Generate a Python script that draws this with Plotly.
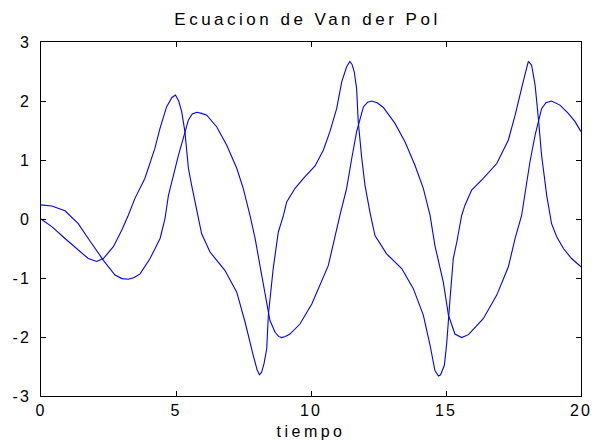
import plotly.graph_objects as go

# Series 1: x(t)  (smooth oscillation, amplitude ~2)
t_x = [0, 0.4, 0.89, 1.38, 1.75, 2.31, 2.74, 3.0, 3.23, 3.45, 3.67, 4.04, 4.41,
       4.59, 4.72, 4.84, 4.96, 5.09, 5.27, 5.46, 5.6, 5.77, 5.95, 6.14, 6.51, 6.88,
       7.25, 7.49, 7.74, 7.93, 8.11, 8.3, 8.48, 8.67, 8.8, 8.91, 9.05, 9.22, 9.59,
       10.03, 10.52, 10.64, 11.07, 11.32, 11.51, 11.69, 11.94, 12.1, 12.25, 12.45,
       12.68, 13.11, 13.48, 13.85, 14.16, 14.41, 14.59, 14.9, 15.09, 15.33, 15.58,
       15.83, 16.38, 16.88, 17.31, 17.56, 17.8, 17.86, 18.11, 18.3, 18.54, 18.7,
       18.91, 19.22, 19.53, 19.78, 20.0]
x_vals = [0.24, 0.22, 0.14, -0.08, -0.33, -0.70, -0.95, -1.01, -1.02, -0.99, -0.93,
          -0.67, -0.33, 0.0, 0.40, 0.63, 0.82, 1.08, 1.37, 1.68, 1.78, 1.81, 1.79, 1.76,
          1.56, 1.25, 0.86, 0.52, 0.06, -0.33, -0.79, -1.29, -1.72, -1.92, -1.99, -2.01,
          -1.99, -1.95, -1.78, -1.44, -0.93, -0.79, 0.06, 0.52, 1.03, 1.48, 1.90, 1.98,
          2.0, 1.97, 1.89, 1.62, 1.31, 0.91, 0.52, 0.06, -0.45, -1.07, -1.63, -1.95,
          -2.01, -1.96, -1.69, -1.29, -0.81, -0.33, 0.06, 0.23, 0.97, 1.42, 1.87, 1.97,
          2.0, 1.93, 1.79, 1.65, 1.48]

# Series 2: x'(t)  (sharp spikes, amplitude ~2.7)
t_dx = [0, 0.4, 0.89, 1.38, 1.75, 2.06, 2.31, 2.68, 2.99, 3.23, 3.48, 3.85, 4.22, 4.41,
        4.65, 4.85, 4.98, 5.1, 5.21, 5.33, 5.46, 5.58, 5.7, 5.8, 5.95, 6.26, 6.81, 7.25,
        7.56, 7.86, 8.0, 8.09, 8.17, 8.26, 8.36, 8.42, 8.6, 8.79, 8.98, 9.1, 9.41, 9.72,
        10.15, 10.46, 10.7, 10.95, 11.14, 11.32, 11.44, 11.52, 11.6, 11.69, 11.75, 11.88,
        12.0, 12.19, 12.37, 12.8, 13.36, 13.79, 14.16, 14.41, 14.59, 14.72, 14.8, 14.94,
        15.03, 15.15, 15.27, 15.4, 15.58, 15.7, 15.95, 16.38, 16.88, 17.31, 17.56, 17.86,
        18.05, 18.17, 18.3, 18.42, 18.54, 18.73, 18.91, 19.1, 19.35, 19.65, 20.0]
dx_vals = [0, -0.13, -0.33, -0.53, -0.67, -0.72, -0.67, -0.47, -0.19, 0.06, 0.35, 0.69,
           1.20, 1.54, 1.90, 2.06, 2.10, 2.0, 1.82, 1.48, 0.86, 0.57, 0.29, 0.06, -0.25,
           -0.56, -0.87, -1.24, -1.75, -2.31, -2.55, -2.64, -2.60, -2.45, -2.20, -1.63,
           -0.84, -0.22, 0.06, 0.29, 0.52, 0.69, 0.90, 1.17, 1.48, 1.87, 2.33, 2.58, 2.67,
           2.62, 2.50, 2.21, 1.65, 1.03, 0.57, 0.10, -0.28, -0.59, -0.84, -1.18, -1.63,
           -2.14, -2.57, -2.66, -2.64, -2.48, -2.09, -1.35, -0.67, -0.39, 0.06, 0.23, 0.49,
           0.69, 0.94, 1.34, 1.76, 2.33, 2.67, 2.61, 2.27, 1.71, 1.08, 0.40, -0.08, -0.30,
           -0.50, -0.67, -0.81]

x_ticks = [0, 5, 10, 15, 20]
y_ticks = [-3, -2, -1, 0, 1, 2, 3]

title_text = "Ecuacion de Van der Pol"
xlabel_text = "tiempo"

FONT = "Liberation Sans, Arial, sans-serif"
BLUE = "rgb(0,0,255)"

fig = go.Figure()
fig.add_trace(go.Scatter(x=t_x, y=x_vals, mode="lines",
                         line=dict(color=BLUE, width=1.1), showlegend=False))
fig.add_trace(go.Scatter(x=t_dx, y=dx_vals, mode="lines",
                         line=dict(color=BLUE, width=1.1), showlegend=False))

fig.update_layout(
    width=596, height=444,
    margin=dict(l=41, r=15, t=42, b=48, autoexpand=False),
    paper_bgcolor="white", plot_bgcolor="white",
    font=dict(family=FONT, size=16, color="black"),
    title=dict(text=title_text, x=0.4935, xref="paper", xanchor="center",
               y=1 - 19 / 444, yref="container", yanchor="middle",
               font=dict(family=FONT, size=17, color="black")),
)
fig.update_xaxes(
    range=[0, 20], tickvals=x_ticks, ticktext=[str(v) for v in x_ticks],
    showgrid=False, zeroline=False, automargin=False,
    showline=True, linecolor="black", linewidth=1, mirror="ticks",
    ticks="inside", ticklen=5, tickcolor="black", tickwidth=1,
    tickfont=dict(family=FONT, size=16),
    title=dict(text=xlabel_text, standoff=7, font=dict(family=FONT, size=16)),
)
fig.update_yaxes(
    range=[-3, 3], tickvals=y_ticks, ticktext=[str(v) for v in y_ticks],
    showgrid=False, zeroline=False, automargin=False,
    showline=True, linecolor="black", linewidth=1, mirror="ticks",
    ticks="inside", ticklen=5, tickcolor="black", tickwidth=1,
    tickfont=dict(family=FONT, size=16), ticklabelstandoff=6,
)

post = """
(function(){
  document.body.style.margin = '0';
  document.body.style.padding = '0';
  document.body.style.overflow = 'hidden';
  var gd = document.getElementById('{plot_id}');
  function sp(){
    gd.querySelectorAll('.gtitle').forEach(function(t){ t.style.letterSpacing = '3.5px'; });
    gd.querySelectorAll('.xtitle').forEach(function(t){ t.style.letterSpacing = '3.5px'; });
    gd.querySelectorAll('.xtick text, .ytick text').forEach(function(t){ t.style.letterSpacing = '2px'; });
  }
  sp();
  if (gd && gd.on) { gd.on('plotly_afterplot', sp); }
  setTimeout(sp, 30);
})();
"""

fig.write_html("out.html", post_script=post, config={"displayModeBar": False})
